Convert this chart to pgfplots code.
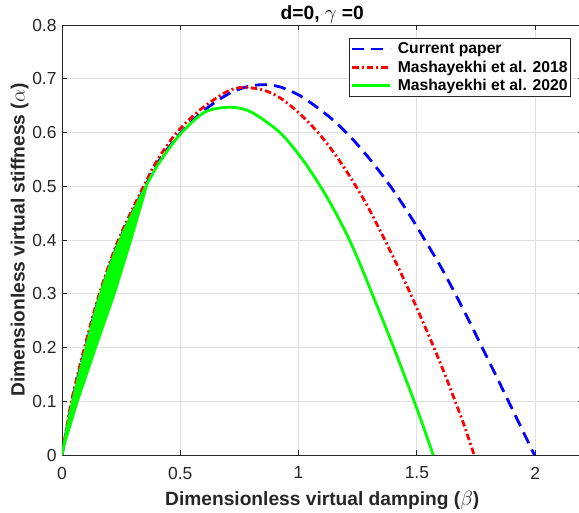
\documentclass[border=0pt]{standalone}
\usepackage{fontspec}
\setmainfont{Liberation Sans}
\usepackage{pgfplots}
\pgfplotsset{compat=1.18}

\definecolor{axgray}{rgb}{0.15,0.15,0.15}
\definecolor{gridgray}{rgb}{0.88,0.88,0.88}
\definecolor{mblue}{rgb}{0,0,1}
\definecolor{mred}{rgb}{1,0,0}
\definecolor{mgreen}{rgb}{0,1,0}

% stability boundaries: alpha (virtual stiffness) against beta (virtual damping)
\pgfplotstableread{
beta alpha
0     0
0.043 0.1
0.099 0.2
0.162 0.3
0.243 0.4
0.352 0.5
0.413 0.55
0.513 0.605
0.600 0.641
0.700 0.671
0.780 0.685
0.850 0.689
0.920 0.685
1.000 0.670
1.062 0.652
1.133 0.628
1.190 0.605
1.250 0.577
1.300 0.551
1.360 0.517
1.415 0.483
1.470 0.446
1.520 0.410
1.600 0.351
1.662 0.300
1.720 0.250
1.776 0.200
1.833 0.149
1.887 0.100
1.942 0.050
1.997 0
}\current

\pgfplotstableread{
beta alpha
0     0
0.040 0.1
0.095 0.2
0.158 0.3
0.238 0.4
0.345 0.5
0.405 0.55
0.485 0.6
0.583 0.642
0.696 0.676
0.766 0.684
0.850 0.679
0.920 0.665
1.000 0.637
1.080 0.601
1.150 0.562
1.220 0.516
1.290 0.464
1.360 0.404
1.420 0.350
1.475 0.298
1.525 0.248
1.572 0.200
1.620 0.148
1.660 0.102
1.700 0.055
1.742 0
}\mashA

\pgfplotstableread{
beta alpha
0     0
0.045 0.1
0.102 0.2
0.163 0.3
0.245 0.4
0.355 0.5
0.414 0.546
0.502 0.598
0.604 0.638
0.710 0.647
0.800 0.638
0.921 0.600
1.006 0.556
1.060 0.522
1.110 0.487
1.160 0.448
1.213 0.402
1.260 0.355
1.309 0.302
1.355 0.252
1.400 0.202
1.443 0.153
1.485 0.104
1.527 0.053
1.569 0
}\mashB

% band swept by the 2020 curve close to the origin
\pgfplotstableread{
beta alpha
0     0
0.045 0.1
0.102 0.2
0.163 0.3
0.245 0.4
0.330 0.474
0.360 0.5
0.344 0.474
0.295 0.4
0.225 0.3
0.146 0.2
0.069 0.1
0     0
}\mashBband

\begin{document}
\begin{tikzpicture}
\useasboundingbox (-62bp,-58bp) rectangle (517bp,455bp);
\begin{axis}[
  at={(0,0)}, anchor=south west,
  scale only axis, width=520.5bp, height=430bp,
  xmin=0, xmax=2.2, ymin=0, ymax=0.8,
  xtick={0,0.5,1,1.5,2},
  xticklabels={0,0.5,1,1.5,2},
  ytick={0,0.1,0.2,0.3,0.4,0.5,0.6,0.7,0.8},
  yticklabels={0,0.1,0.2,0.3,0.4,0.5,0.6,0.7,0.8},
  tick align=inside,
  major tick length=5bp,
  every tick/.style={axgray, line width=0.9bp},
  axis line style={axgray, line width=0.9bp},
  grid=major,
  grid style={gridgray, line width=0.8bp},
  ticklabel style={font=\fontsize{17.5}{20}\selectfont, text=axgray},
  xticklabel style={inner sep=0pt, anchor=north, yshift=-11.7bp},
  yticklabel style={inner sep=0pt, anchor=east, xshift=-5.3bp},
  every axis title shift/.style={},
  every axis title/.style={
    at={(axis description cs:0.5,1.0133)}, anchor=base, inner sep=0pt,
    font=\bfseries\fontsize{19.25}{22}\selectfont},
  title={d=0, $\gamma$ =0},
  xlabel={Dimensionless virtual damping ($\beta$)},
  ylabel={Dimensionless virtual stiffness ($\alpha$)},
  label style={font=\bfseries\fontsize{19.25}{22}\selectfont, text=axgray, inner sep=0pt},
  xlabel style={at={(axis description cs:0.5,-0.117)}, anchor=base},
  ylabel style={at={(axis description cs:-0.072,0.5)}, anchor=base, rotate=0},
  legend cell align=left,
  legend image code/.code={\draw[#1] (0bp,0bp) -- (38bp,0bp);},
  legend style={
    at={(rel axis cs:0.978,0.9709)}, anchor=north east,
    draw=axgray, line width=0.8bp, fill=white,
    font=\bfseries\fontsize{15.75}{18}\selectfont,
    inner xsep=1bp, inner ysep=2.8bp,
    nodes={inner xsep=2bp, inner ysep=2bp},
    column sep=4.3bp, row sep=1.5bp,
  },
]
\addplot[mblue, line width=2.8bp, dash pattern=on 12bp off 7bp, smooth, tension=0.5]
  table[x=beta, y=alpha] {\current};
\addlegendentry{Current paper}
\addplot[mred, line width=2.8bp, dash pattern=on 6.5bp off 3bp on 2bp off 3bp, smooth, tension=0.5]
  table[x=beta, y=alpha] {\mashA};
\addlegendentry{Mashayekhi et al. 2018}
\addplot[mgreen, line width=2.8bp, smooth, tension=0.5]
  table[x=beta, y=alpha] {\mashB};
\addlegendentry{Mashayekhi et al. 2020}
\addplot[mgreen, fill=mgreen, line width=0.8bp, forget plot]
  table[x=beta, y=alpha] {\mashBband} -- cycle;
\end{axis}
\end{tikzpicture}
\end{document}
